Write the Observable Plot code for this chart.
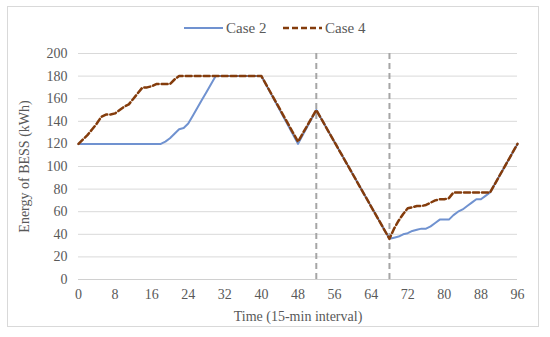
<!DOCTYPE html>
<html><head><meta charset="utf-8">
<script src="https://cdn.jsdelivr.net/npm/d3@7"></script>
<script src="https://cdn.jsdelivr.net/npm/@observablehq/plot@0.6"></script>
<style>
body{margin:0;background:#fff;}
#wrap{position:relative;width:550px;height:337px;font-family:"Liberation Serif","Times New Roman",serif;}
#frame{position:absolute;left:7px;top:6px;width:532px;height:321px;border:1px solid #d9d9d9;box-sizing:border-box;pointer-events:none;}
#legend{position:absolute;top:18px;left:0;width:550px;height:20px;font-size:15px;color:#595959;}
.li{position:absolute;top:0;display:flex;align-items:center;height:20px;}
</style></head>
<body><div id="wrap"><div id="frame"></div><div id="legend"></div><div id="chart"></div></div>
<script>
const seriesNames = ["Case 2", "Case 4"];
const case2T = [0,18,19,20,21,22,23,24,25,26,27,28,29,30,40,48,52,68,69,70,71,72,73,74,75,76,77,78,79,80,81,82,83,84,85,86,87,88,89,90,96];
const case2V = [120,120,122,125,129,133,134,138,145,152,159,166,173,180,180,120,150,36,37,38,40,41,43,44,45,45,47,50,53,53,53,57,60,62,65,68,71,71,74,77,120];
const case4T = [0,1,2,3,4,5,6,7,8,9,10,11,12,13,14,15,16,17,18,19,20,21,22,40,48,52,68,69,70,71,72,73,74,75,76,77,78,79,80,81,82,90,96];
const case4V = [120,124,128,133,138,144,146,146,147,150,153,155,160,165,170,170,171,173,173,173,173,177,180,180,122,150,36,45,52,58,63,64,65,65,66,68,70,71,71,72,77,77,120];
const xTicks = [0,8,16,24,32,40,48,56,64,72,80,88,96];
const yTicks = [0,20,40,60,80,100,120,140,160,180,200];
const markerLines = [52, 68];

const d2 = case2T.map((t,i)=>({t, v:case2V[i]}));
const d4 = case4T.map((t,i)=>({t, v:case4V[i]}));

const chart = Plot.plot({
  width: 550, height: 337,
  marginLeft: 78, marginRight: 33, marginTop: 53, marginBottom: 58,
  style: {fontFamily: '"Liberation Serif","Times New Roman",serif', fontSize: "14px", color: "#595959", background: "transparent"},
  x: {domain: [0, 96], ticks: xTicks, tickSize: 0, tickPadding: 10, label: "Time (15-min interval)", labelAnchor: "center", labelOffset: 41, labelArrow: "none"},
  y: {domain: [0, 200], ticks: yTicks, tickSize: 0, tickPadding: 11, label: "Energy of BESS (kWh)", labelAnchor: "center", labelOffset: 59, labelArrow: "none"},
  marks: [
    Plot.gridY(yTicks.filter(d=>d>0), {stroke: "#d9d9d9", strokeOpacity: 1, strokeWidth: 1}),
    Plot.ruleY([0], {stroke: "#d0d0d0", strokeWidth: 1.2}),
    Plot.ruleX(markerLines, {y1: 0, y2: 200, stroke: "#a6a6a6", strokeWidth: 2, strokeDasharray: "6,4"}),
    Plot.line(d2, {x: "t", y: "v", stroke: "#7092d0", strokeWidth: 2}),
    Plot.line(d4, {x: "t", y: "v", stroke: "#843c0c", strokeWidth: 2.5, strokeDasharray: "6,3"})
  ]
});
document.getElementById("chart").appendChild(chart);

const legend = document.getElementById("legend");
const items = [
  {name: seriesNames[0], left: 184, stroke: "#7092d0", dash: null, w: 2},
  {name: seriesNames[1], left: 283, stroke: "#843c0c", dash: "6,3", w: 2.5}
];
for (const it of items) {
  const div = document.createElement("div");
  div.className = "li";
  div.style.left = it.left + "px";
  div.innerHTML = `<svg width="42" height="20"><line x1="0" x2="39" y1="10" y2="10" stroke="${it.stroke}" stroke-width="${it.w}" ${it.dash ? `stroke-dasharray="${it.dash}"` : ""}/></svg><span>${it.name}</span>`;
  legend.appendChild(div);
}
</script></body></html>
